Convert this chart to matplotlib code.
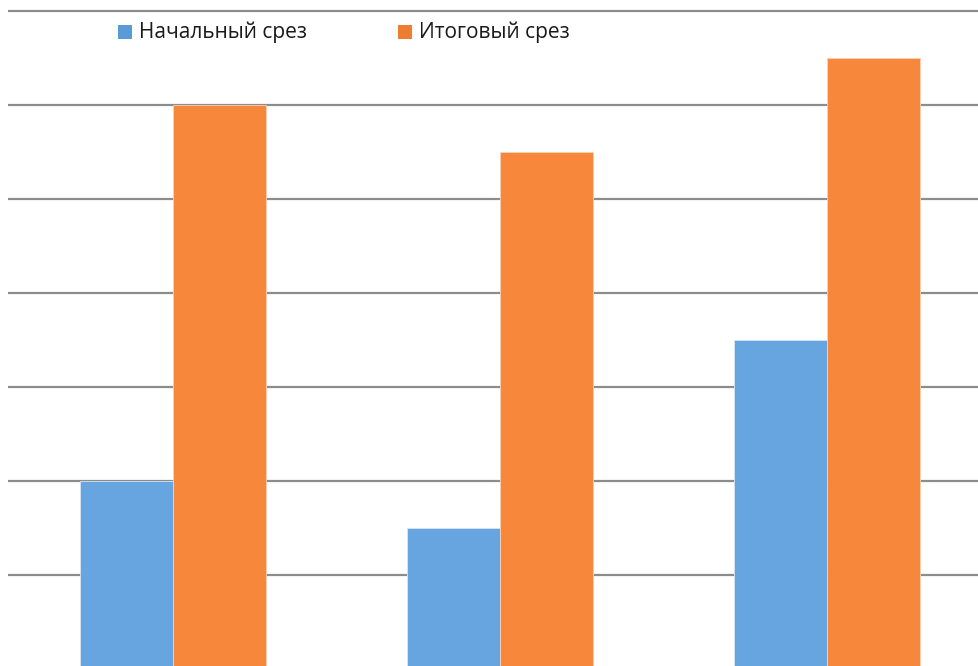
import matplotlib
matplotlib.use("Agg")
import matplotlib.pyplot as plt
from matplotlib.patches import Rectangle
import numpy as np

categories = ["1", "2", "3"]
series_names = ["Начальный срез", "Итоговый срез"]
initial = [2.0, 1.5, 3.5]
final = [6.0, 5.5, 6.5]
grid_values = [1, 2, 3, 4, 5, 6, 7]
colors = ["#66A5E0", "#F7883B"]
legend_colors = ["#5B9BD5", "#ED7D31"]

W, H = 979, 666
fig = plt.figure(figsize=(W / 100, H / 100), dpi=100)
ax = fig.add_axes([8 / W, 0, 1 - 8 / W, 1])

x = np.arange(len(categories))
bw = 93 / 327
ax.bar(x - bw / 2, initial, width=bw, color=colors[0], edgecolor="#d8e6f5", linewidth=0.6, zorder=3)
ax.bar(x + bw / 2, final, width=bw, color=colors[1], edgecolor="#fbd2b3", linewidth=0.6, zorder=3)

for g in grid_values:
    ax.axhline(g, color="#8c8c8c", lw=1.6, zorder=1)

ax.set_xlim(-(173 - 8) / 327, 2 + (979 - 827) / 327)
ax.set_ylim(3 / 94, 7 + 11 / 94)
ax.axis("off")

# legend
font = dict(family=["Open Sans", "DejaVu Sans"], fontsize=15, color="#1a1a1a", va="center", ha="left")
for i, (name, sx, tx) in enumerate(zip(series_names, [118, 398], [139, 419])):
    fig.patches.append(Rectangle((sx / W, 1 - 39 / H), 14 / W, 14 / H, transform=fig.transFigure,
                                 facecolor=legend_colors[i], edgecolor="none"))
    fig.text(tx / W, 1 - 32 / H, name, **font)

fig.savefig("out.png", dpi=100)
